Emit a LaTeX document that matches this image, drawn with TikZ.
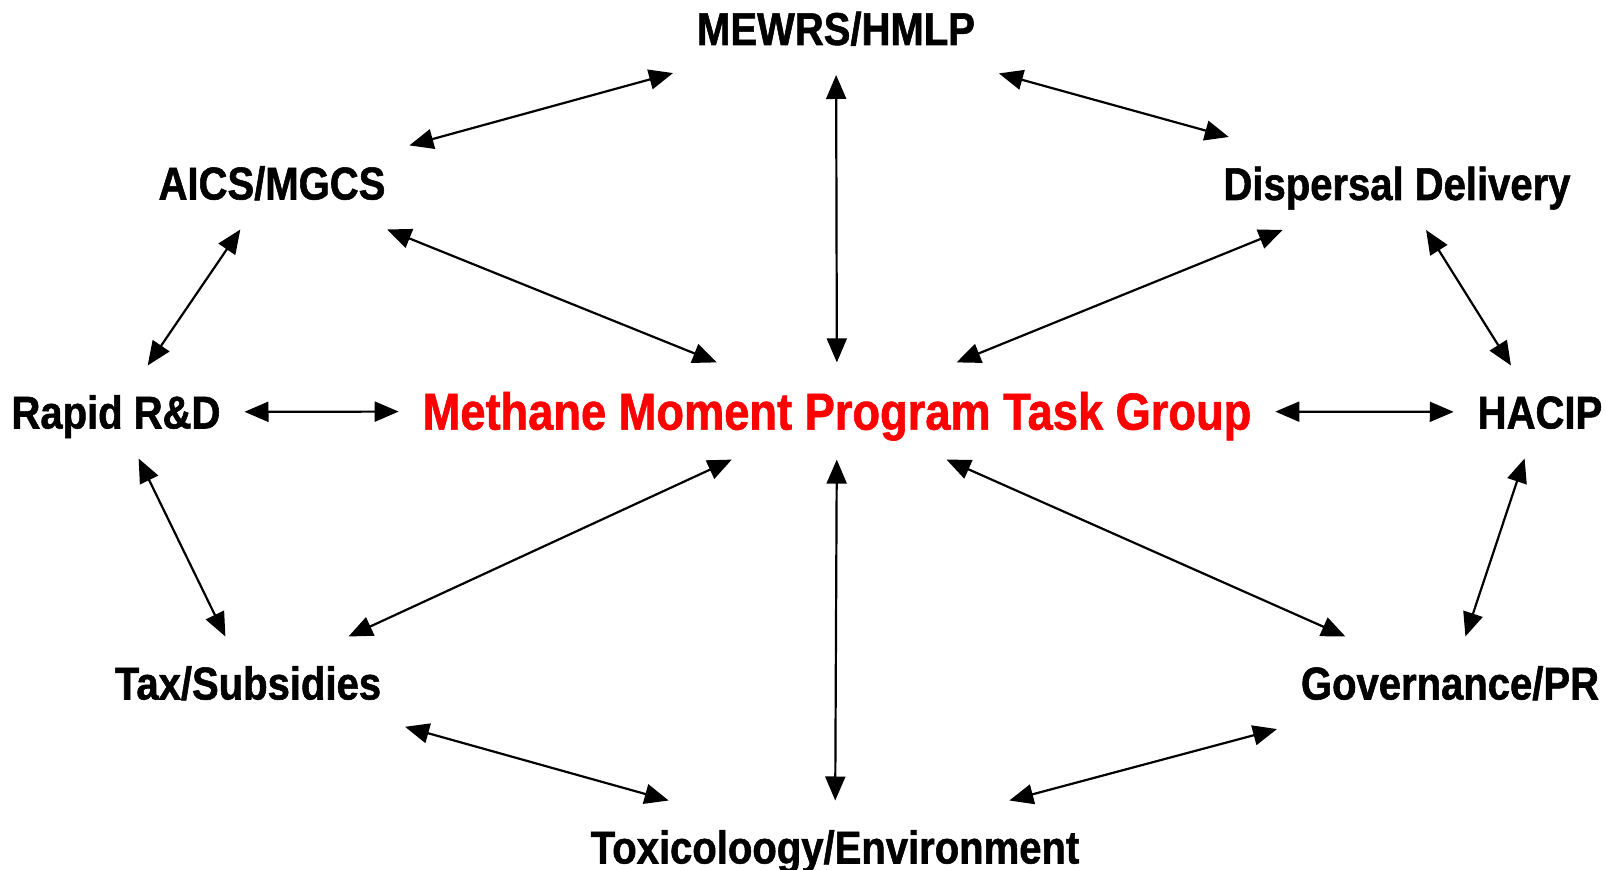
\documentclass[tikz,border=0pt]{standalone}
\usepackage{fontspec}
\usepackage{xcolor}
\usepackage{tikz}
\usetikzlibrary{arrows.meta, positioning}
\newfontfamily\cndfont{Liberation Sans}[FakeStretch=0.87, BoldFeatures={FakeBold=1.2}]
\definecolor{myred}{RGB}{255,0,0}
\definecolor{mydark}{RGB}{0,0,0}
\tikzset{
  part/.style={rectangle, inner xsep=12pt, inner ysep=15pt, outer sep=0pt,
    text height=16.5pt, text depth=0pt, color=mydark,
    font=\cndfont\bfseries\fontsize{23}{27}\selectfont},
  hub/.style={rectangle, inner xsep=12pt, inner ysep=15pt, outer sep=0pt,
    text height=18.6pt, text depth=0pt, color=myred,
    font=\cndfont\bfseries\fontsize{26}{30}\selectfont},
  link/.style={{Triangle[length=12pt, width=10pt]}-{Triangle[length=12pt, width=10pt]},
    line width=1.1pt, color=mydark}
}
\begin{document}
\begin{tikzpicture}[x=0.5pt, y=-0.5pt]
  \useasboundingbox (0,0) rectangle (1606,870);

  % Task group in the middle
  \node[hub] (hub) at (837,411) {Methane Moment Program Task Group};

  % Program parts round the task group
  \node[part] (mewrs) at (836,28.5) {MEWRS/HMLP};
  \node[part] (aics) at (272,183) {AICS/MGCS};
  \node[part] (disp) at (1397,183.5) {Dispersal Delivery};
  \node[part] (rapid) at (116,412) {Rapid R\&D};
  \node[part] (hacip) at (1540,412) {HACIP};
  \node[part] (tax) at (248,683) {Tax/Subsidies};
  \node[part] (gov) at (1450,683) {Governance/PR};
  \node[part] (tox) at (835,847) {Toxicoloogy/Environment};

  % Spokes to the task group
  \draw[link] (mewrs) -- (hub);
  \draw[link] (aics) -- (hub);
  \draw[link] (disp) -- (hub);
  \draw[link] (rapid) -- (hub);
  \draw[link] (hub) -- (hacip);
  \draw[link] (hub) -- (tax);
  \draw[link] (hub) -- (gov);
  \draw[link] (hub) -- (tox);

  % Ring between neighbouring parts
  \draw[link] (aics) -- (mewrs);
  \draw[link] (mewrs) -- (disp);
  \draw[link] (aics) -- (rapid);
  \draw[link] (disp) -- (hacip);
  \draw[link] (rapid) -- (tax);
  \draw[link] (hacip) -- (gov);
  \draw[link] (tax) -- (tox);
  \draw[link] (gov) -- (tox);
\end{tikzpicture}
\end{document}
